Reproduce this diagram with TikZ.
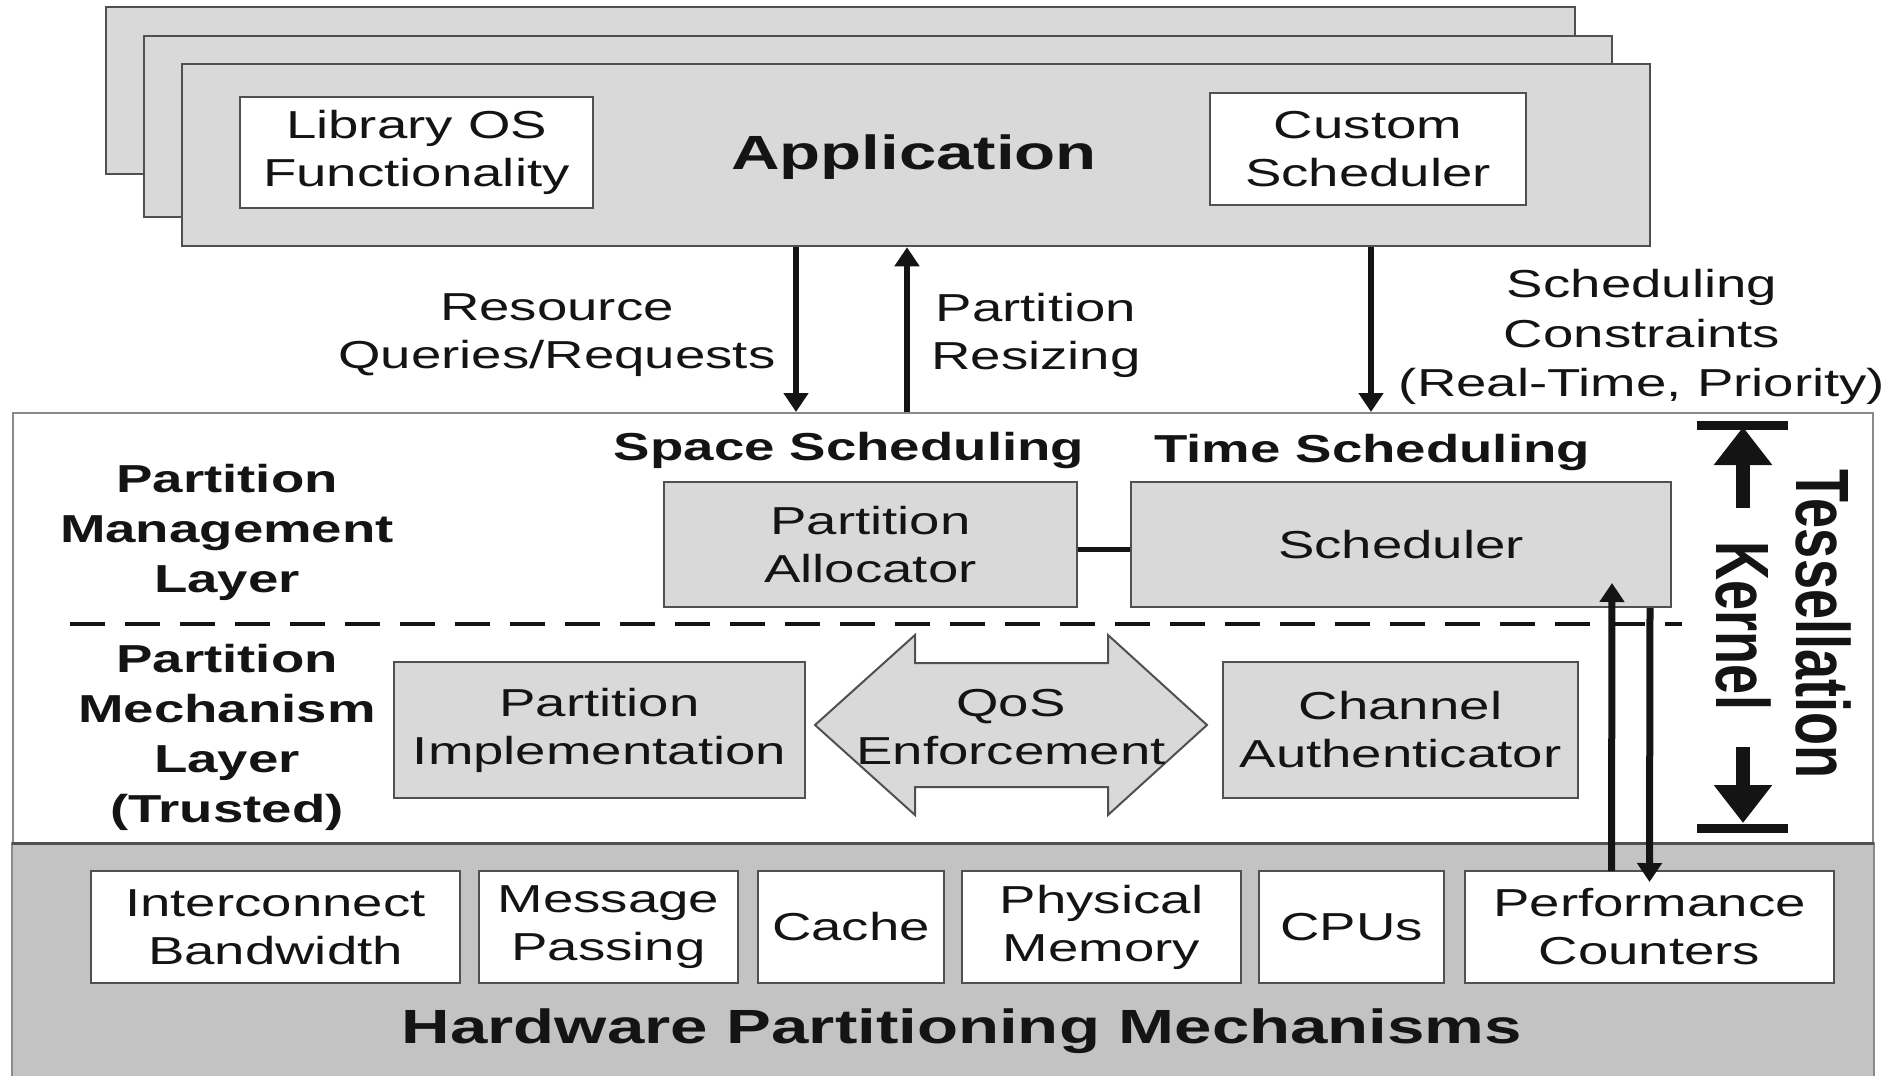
\documentclass[tikz,border=0pt]{standalone}
\usepackage{graphicx}
\usepackage{fontspec}
\setmainfont{Liberation Sans}[FakeStretch=1.4]
\newfontfamily\flatfont{Liberation Sans}
\usepackage{tikz}
\usetikzlibrary{positioning, arrows.meta, calc}
\definecolor{pInk}{HTML}{141414}
\definecolor{pLine}{HTML}{505050}
\definecolor{pEdge}{HTML}{8A8A8A}
\definecolor{pFill}{HTML}{D9D9D9}
\definecolor{pHw}{HTML}{C3C3C3}

\begin{document}
\begin{tikzpicture}[x=1pt, y=-1pt,
  txt/.style={font=\fontsize{39}{48}\selectfont, text=pInk, align=center, inner sep=0pt},
  lbl/.style={font=\fontsize{39}{50}\selectfont\bfseries, text=pInk, align=center, inner sep=0pt},
  big/.style={font=\fontsize{48}{56}\selectfont\bfseries, text=pInk, inner sep=0pt},
  vlbl/.style={font=\flatfont\fontsize{54}{60}\selectfont\bfseries, text=pInk, inner sep=0pt},
  panel/.style={draw=pLine, line width=2.5pt, fill=pFill, inner sep=0pt},
  gbox/.style={draw=pLine, line width=2pt, fill=pFill, inner sep=0pt, txt},
  wbox/.style={draw=pLine, line width=2pt, fill=white, inner sep=0pt, txt},
  hwbox/.style={wbox, outer sep=0pt, minimum height=112pt},
  flow/.style={line width=6pt, draw=pInk, -{Triangle[length=19pt, width=24pt]}}]
  \useasboundingbox (0,0) rectangle (1898,1076);

  % stacked application panels
  \node[panel, minimum width=1469pt, minimum height=167pt] (app3) at (840.5,90.5) {};
  \node[panel, minimum width=1468pt, minimum height=181pt] (app2) at (878,126.5) {};
  \node[panel, minimum width=1468pt, minimum height=182pt] (app) at (916,155) {};
  \node[wbox, minimum width=353pt, minimum height=111pt] (libos) at (416.5,152.5) {Library OS\\Functionality};
  \node[wbox, minimum width=316pt, minimum height=112pt] (custsched) at (1368,149) {Custom\\Scheduler};
  \node[big] (apptitle) at (914,157) {Application};

  % kernel frame and hardware band
  \node[draw=pEdge, line width=2pt, fill=white, inner sep=0pt,
    minimum width=1860pt, minimum height=677pt] (kernel) at (943,751.5) {};
  \coordinate (hwtop) at (0,843);
  \draw[draw=pEdge, line width=2pt, fill=pHw] (kernel.south west) rectangle (kernel.east |- hwtop);
  \draw[pLine, line width=3pt] (kernel.west |- hwtop) -- (kernel.east |- hwtop);

  % layer split
  \coordinate (dashL) at (70,624);
  \coordinate (dashR) at (1682,624);
  \draw[pInk, line width=4pt, dash pattern=on 35pt off 20pt] (dashL) -- (dashR);

  % management layer
  \node[lbl] (spacesched) at (849,450) {Space Scheduling};
  \node[lbl] (timesched) at (1372,452) {Time Scheduling};
  \node[lbl] (pmgmt) at (227,532) {Partition\\Management\\Layer};
  \node[gbox, minimum width=413pt, minimum height=125pt] (alloc) at (870.5,544.5) {Partition\\Allocator};
  \node[gbox, minimum width=540pt, minimum height=125pt] (sched) at (1401,544.5) {Scheduler};
  \draw[pInk, line width=5pt] ([yshift=-5pt]alloc.east) -- ([yshift=-5pt]sched.west);

  % mechanism layer
  \node[lbl] (pmech) at (227,737) {Partition\\Mechanism\\Layer\\(Trusted)};
  \node[gbox, minimum width=411pt, minimum height=136pt] (impl) at (599.5,730) {Partition\\Implementation};
  \node[gbox, minimum width=355pt, minimum height=136pt] (chan) at (1400.5,730) {Channel\\Authenticator};
  \draw[draw=pLine, line width=2pt, fill=pFill]
    (815,725) -- (915,635) -- (915,663) -- (1108,663) -- (1108,635) -- (1207,725)
    -- (1108,815) -- (1108,787) -- (915,787) -- (915,815) -- cycle;
  \node[txt] (qos) at (1011,727) {QoS\\Enforcement};

  % hardware resources
  \node[hwbox, minimum width=369pt] (icb) at (275.5,927) {Interconnect\\Bandwidth};
  \node[hwbox, minimum width=259pt, right=19pt of icb] (msg) {Message\\Passing};
  \node[hwbox, minimum width=186pt, right=20pt of msg] (cache) {Cache};
  \node[hwbox, minimum width=279pt, right=18pt of cache] (phys) {Physical\\Memory};
  \node[hwbox, minimum width=185pt, right=18pt of phys] (cpus) {CPUs};
  \node[hwbox, minimum width=369pt, right=21pt of cpus] (perf) {Performance\\Counters};
  \node[big] (hwlabel) at (962,1031) {Hardware Partitioning Mechanisms};

  % interface labels and flows
  \node[txt] (resq) at (557,335) {Resource\\Queries/Requests};
  \node[txt] (resize) at (1036,335) {Partition\\Resizing};
  \node[txt, font=\fontsize{39}{49.5}\selectfont] (schedc) at (1642,337) {Scheduling\\Constraints\\(Real-Time, Priority)};
  \draw[flow] ([xshift=-120pt]app.south) -- ([xshift=-147pt]kernel.north);
  \draw[flow] ([xshift=-36pt]kernel.north) -- ([xshift=-9pt]app.south);
  \draw[flow] ([xshift=455pt]app.south) -- ([xshift=428pt]kernel.north);
  \draw[flow, line width=7pt] ([xshift=-38pt]perf.north) -- ([xshift=211pt, yshift=25pt]sched.south);
  \draw[flow, line width=7pt] ([xshift=249pt]sched.south) -- ([yshift=-11pt]perf.north);

  % kernel extent marker
  \coordinate (tkt) at (1743,425);
  \coordinate (tkb) at (1743,828);
  \draw[pInk, line width=9pt] ([xshift=-46pt]tkt) -- ([xshift=45pt]tkt);
  \draw[pInk, line width=9pt] ([xshift=-46pt]tkb) -- ([xshift=45pt]tkb);
  \draw[pInk, line width=14pt, -{Triangle[length=38pt, width=56pt]}] ([yshift=-83pt]tkt) -- ([yshift=-2pt]tkt);
  \draw[pInk, line width=14pt, -{Triangle[length=38pt, width=56pt]}] ([yshift=81pt]tkb) -- ([yshift=5pt]tkb);
  \node[vlbl] (tess) at (1823,624) {\scalebox{1.4}[1]{\rotatebox{-90}{Tessellation}}};
  \node[vlbl] (kern) at (1743,626) {\scalebox{1.4}[1]{\rotatebox{-90}{Kernel}}};
\end{tikzpicture}
\end{document}
